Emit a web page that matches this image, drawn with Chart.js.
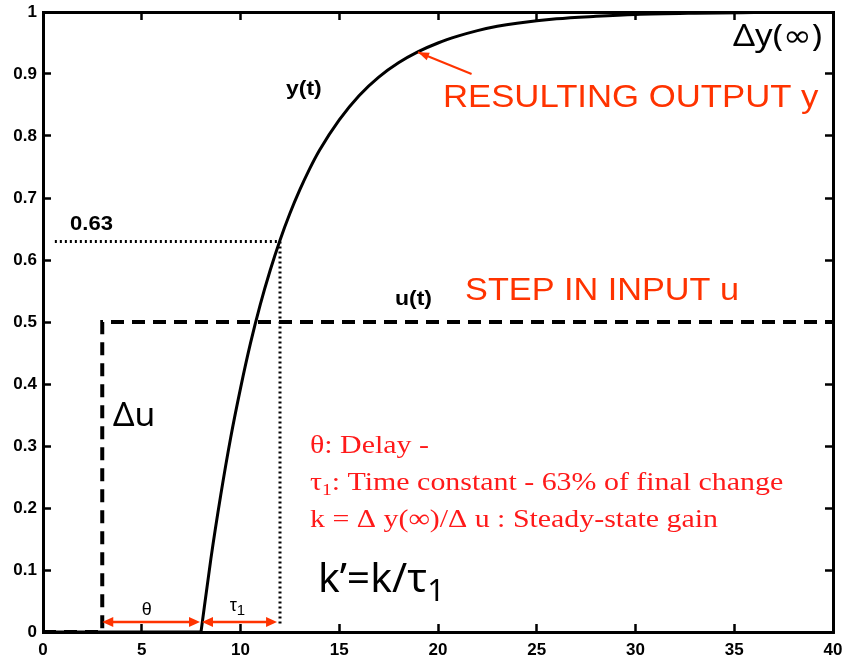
<!DOCTYPE html>
<html>
<head>
<meta charset="utf-8">
<script src="https://cdn.jsdelivr.net/npm/chart.js@4.4.0/dist/chart.umd.min.js"></script>
<style>
  body { margin: 0; background: #fff; }
  canvas { display: block; }
</style>
</head>
<body>
<canvas id="grafico" width="843" height="661"></canvas>
<script>
/* --- Dados --- */
const xTicks = [0, 5, 10, 15, 20, 25, 30, 35, 40];
const xTickLabels = ["0", "5", "10", "15", "20", "25", "30", "35", "40"];
const yTicks = [0, 0.1, 0.2, 0.3, 0.4, 0.5, 0.6, 0.7, 0.8, 0.9, 1];
const yTickLabels = ["0", "0.1", "0.2", "0.3", "0.4", "0.5", "0.6", "0.7", "0.8", "0.9", "1"];

// saída y(t): parte parada (antes do atraso) e subida
const tempoParado = [0, 8];
const saidaParada = [0, 0];
const tempoSubida = [8, 8.5, 9, 9.5, 10, 10.5, 11, 11.5, 12, 12.5, 13, 13.5, 14, 15, 16, 17, 18, 19, 20, 21, 22, 23, 24, 26, 28, 30, 33, 36, 40];
const saidaSubida = [0, 0.118, 0.221, 0.313, 0.393, 0.465, 0.528, 0.583, 0.632, 0.675, 0.713, 0.747, 0.777, 0.826, 0.865, 0.895, 0.918, 0.936, 0.950, 0.961, 0.970, 0.977, 0.982, 0.989, 0.993, 0.996, 0.998, 0.999, 1.0];

// degrau de entrada u(t)
const tempoDegrau = [0, 3, 3, 40];
const entradaDegrau = [0, 0, 0.5, 0.5];

// linhas pontilhadas de 63%
const tempo63h = [0.6, 12];
const valor63h = [0.63, 0.63];
const tempo63v = [12, 12];
const valor63v = [0.63, 0.01];

const pontos = (xs, ys) => xs.map((x, i) => ({ x: x, y: ys[i] }));

/* --- Anotações (texto e setas) --- */
const VERMELHO = "#ff3300";
const SERIF_RED = "#ff1a1a";
const SANS = "'Liberation Sans', Arial, sans-serif";
const CAL = "'Noto Sans', 'DejaVu Sans', sans-serif";
const SERIF = "'Liberation Serif', 'Times New Roman', serif";

const textos = [
  { partes: [["0.63"]], t: 1.37, v: 0.648, font: "bold 21px " + SANS, cor: "#000", esticar: 1.05 },
  { partes: [["y(t)"]], t: 12.3, v: 0.866, font: "bold 20px " + SANS, cor: "#000", esticar: 1.15 },
  { partes: [["u(t)"]], t: 17.82, v: 0.527, font: "bold 20px " + SANS, cor: "#000", esticar: 1.15 },
  { partes: [["Δy(∞)"]], t: 34.94, v: 0.945, font: "30px " + CAL, cor: "#000", esticar: 1.15 },
  { partes: [["RESULTING OUTPUT y"]], t: 20.25, v: 0.847, font: "32px " + SANS, cor: VERMELHO, esticar: 1.085 },
  { partes: [["STEP IN INPUT u"]], t: 21.37, v: 0.535, font: "32px " + SANS, cor: VERMELHO, esticar: 1.07 },
  { partes: [["Δu"]], t: 3.54, v: 0.332, font: "32px " + CAL, cor: "#000", esticar: 1.05 },
  { partes: [["θ: Delay -"]], t: 13.52, v: 0.289, font: "26px " + SERIF, cor: SERIF_RED, esticar: 1.15 },
  { partes: [["τ"], ["1", true], [": Time constant - 63% of final change"]], t: 13.52, v: 0.229, font: "26px " + SERIF, sub: "17px " + SERIF, cor: SERIF_RED, esticar: 1.15 },
  { partes: [["k = Δ y(∞)/Δ u : Steady-state gain"]], t: 13.52, v: 0.169, font: "26px " + SERIF, cor: SERIF_RED, esticar: 1.15 },
  { partes: [["k’=k/τ"], ["1", true]], t: 13.92, v: 0.0645, font: "40px " + CAL, sub: "30px " + CAL, cor: "#000", esticar: 1.02 },
  { partes: [["θ"]], t: 5.0, v: 0.027, font: "18px " + SANS, cor: "#000", esticar: 1.0 },
  { partes: [["τ"], ["1", true]], t: 9.45, v: 0.034, font: "18px " + SANS, sub: "15px " + SANS, cor: "#000", esticar: 1.0 }
];

const setasDuplas = [
  { t1: 3, t2: 7.95, v: 0.016 },
  { t1: 8.05, t2: 11.85, v: 0.016 }
];
const setaSaida = { t1: 21.7, v1: 0.9, t2: 18.99, v2: 0.935 };

function pontaSeta(ctx, xa, ya, xb, yb, comp, larg) {
  const ang = Math.atan2(yb - ya, xb - xa);
  ctx.beginPath();
  ctx.moveTo(xb, yb);
  ctx.lineTo(xb - comp * Math.cos(ang) + larg * Math.sin(ang), yb - comp * Math.sin(ang) - larg * Math.cos(ang));
  ctx.lineTo(xb - comp * Math.cos(ang) - larg * Math.sin(ang), yb - comp * Math.sin(ang) + larg * Math.cos(ang));
  ctx.closePath();
  ctx.fill();
}

const anotacoes = {
  id: "anotacoes",
  afterDraw(chart) {
    const ctx = chart.ctx;
    const sx = chart.scales.x;
    const sy = chart.scales.y;
    ctx.save();

    textos.forEach(tx => {
      const x0 = sx.getPixelForValue(tx.t);
      const y0 = sy.getPixelForValue(tx.v);
      ctx.save();
      ctx.translate(x0, y0);
      ctx.scale(tx.esticar, 1);
      ctx.fillStyle = tx.cor;
      ctx.textBaseline = "alphabetic";
      ctx.textAlign = "left";
      let x = 0;
      tx.partes.forEach(([s, sub]) => {
        const tam = sub ? parseFloat(tx.sub) : parseFloat(tx.font);
        ctx.font = sub ? tx.sub : tx.font;
        ctx.fillText(s, x, sub ? tam * 0.3 : 0);
        x += ctx.measureText(s).width;
      });
      ctx.restore();
    });

    ctx.strokeStyle = VERMELHO;
    ctx.fillStyle = VERMELHO;
    ctx.lineWidth = 2.5;
    setasDuplas.forEach(s => {
      const xa = sx.getPixelForValue(s.t1);
      const xb = sx.getPixelForValue(s.t2);
      const y = sy.getPixelForValue(s.v);
      ctx.beginPath();
      ctx.moveTo(xa + 6, y);
      ctx.lineTo(xb - 6, y);
      ctx.stroke();
      pontaSeta(ctx, xb, y, xa, y, 11, 5);
      pontaSeta(ctx, xa, y, xb, y, 11, 5);
    });

    const xa = sx.getPixelForValue(setaSaida.t1);
    const ya = sy.getPixelForValue(setaSaida.v1);
    const xb = sx.getPixelForValue(setaSaida.t2);
    const yb = sy.getPixelForValue(setaSaida.v2);
    ctx.lineWidth = 2;
    ctx.beginPath();
    ctx.moveTo(xa, ya);
    ctx.lineTo(xb, yb);
    ctx.stroke();
    pontaSeta(ctx, xa, ya, xb, yb, 11, 4);

    ctx.restore();
  }
};

/* --- Eixos --- */
const fonteTick = { family: SANS, size: 17, weight: "bold" };
const gradeTick = { drawOnChartArea: false, drawTicks: true, tickLength: -8, tickWidth: 2.5, color: "#000" };
const borda = { color: "#000", width: 3 };

function semPadding(s) {
  s.paddingLeft = 0; s.paddingRight = 0; s.paddingTop = 0; s.paddingBottom = 0;
}

function eixoX(posicao, mostrar, altura) {
  return {
    type: "linear", position: posicao, min: 0, max: 40,
    afterBuildTicks: s => { s.ticks = xTicks.map(v => ({ value: v })); },
    afterFit: s => { s.height = altura; semPadding(s); },
    ticks: { display: mostrar, padding: 16, color: "#000", font: fonteTick, maxRotation: 0,
      callback: (v, i) => xTickLabels[i] },
    grid: gradeTick, border: borda
  };
}

function eixoY(posicao, mostrar, largura) {
  return {
    type: "linear", position: posicao, min: 0, max: 1,
    afterBuildTicks: s => { s.ticks = yTicks.map(v => ({ value: v })); },
    afterFit: s => { s.width = largura; semPadding(s); },
    ticks: { display: mostrar, padding: 14, color: "#000", font: fonteTick,
      callback: (v, i) => yTickLabels[i] },
    grid: gradeTick, border: borda
  };
}

const ctx = document.getElementById("grafico").getContext("2d");

new Chart(ctx, {
  type: "scatter",
  data: {
    datasets: [
      { data: pontos(tempo63h, valor63h), showLine: true, borderColor: "#000", borderWidth: 3, borderDash: [2, 3], pointRadius: 0 },
      { data: pontos(tempo63v, valor63v), showLine: true, borderColor: "#000", borderWidth: 3, borderDash: [2, 3], pointRadius: 0 },
      { data: pontos(tempoDegrau, entradaDegrau), showLine: true, borderColor: "#000", borderWidth: 4, borderDash: [13, 8], pointRadius: 0 },
      { data: pontos(tempoParado, saidaParada), showLine: true, borderColor: "#000", borderWidth: 3, pointRadius: 0 },
      { data: pontos(tempoSubida, saidaSubida), showLine: true, borderColor: "#000", borderWidth: 3, pointRadius: 0,
        cubicInterpolationMode: "monotone" }
    ]
  },
  options: {
    responsive: false,
    animation: false,
    layout: { padding: 0 },
    plugins: { legend: { display: false }, tooltip: { enabled: false } },
    scales: {
      x: eixoX("bottom", true, 29),
      x2: eixoX("top", false, 12),
      y: eixoY("left", true, 43),
      y2: eixoY("right", false, 10)
    }
  },
  plugins: [anotacoes]
});
</script>
</body>
</html>
